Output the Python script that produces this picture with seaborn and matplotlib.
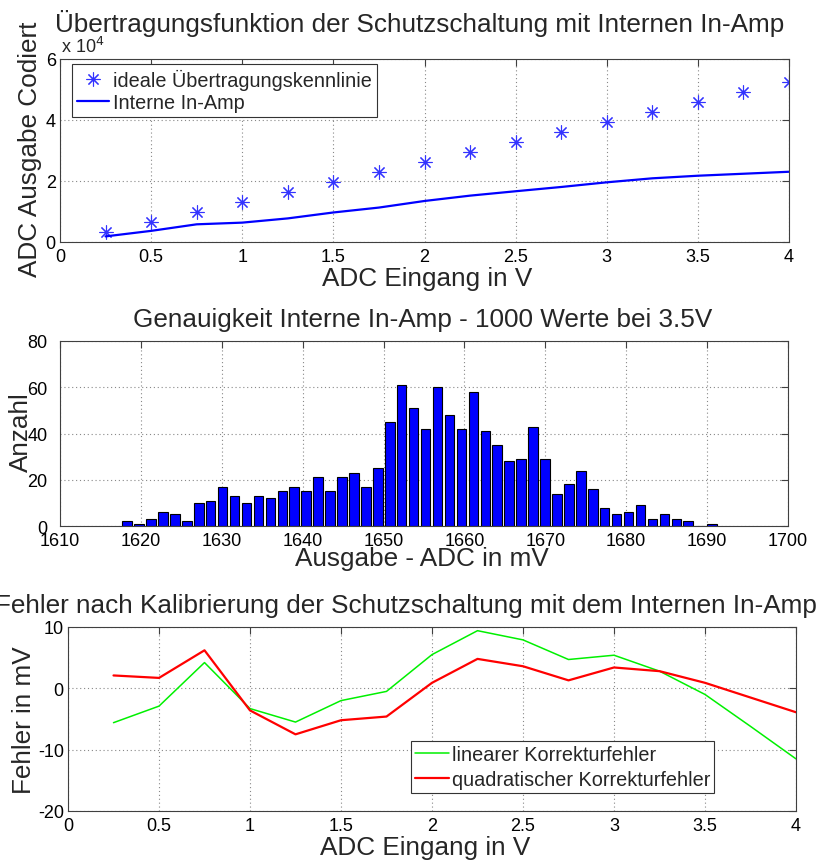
import numpy as np
import pandas as pd
import seaborn as sns
import matplotlib.pyplot as plt
from matplotlib.ticker import FuncFormatter, MultipleLocator

# Input voltages (V) used in the top and bottom plots
volts = [0.25, 0.5, 0.75, 1.0, 1.25, 1.5, 1.75, 2.0,
         2.25, 2.5, 2.75, 3.0, 3.25, 3.5, 3.75, 4.0]

# Top: ideal transfer curve vs. internal in-amp (ADC codes)
ideal_codes = [3277, 6554, 9830, 13107, 16384, 19661, 22938, 26214,
               29491, 32768, 36045, 39322, 42598, 45875, 49152, 52429]
inamp_codes = [1840, 3650, 5800, 6350, 7740, 9680, 11290, 13450,
               15200, 16640, 18040, 19570, 20880, 21730, 22380, 23030]

# Middle: histogram of 1000 readings at 3.5 V (50 bins)
hist_range = (1617.56, 1691.36)
hist_counts = [2, 1, 3, 6, 5, 2, 10, 11, 17, 13,
               10, 13, 12, 15, 17, 15, 21, 15, 21, 23,
               17, 25, 45, 61, 51, 42, 60, 48, 42, 58,
               41, 35, 28, 29, 43, 29, 14, 18, 24, 16,
               8, 5, 6, 9, 3, 5, 3, 2, 0, 1]

# Bottom: error after calibration (mV)
err_linear = [-5.6, -2.9, 4.2, -3.3, -5.5, -2.0, -0.5, 5.5,
              9.4, 7.9, 4.7, 5.4, 2.8, -1.0, -6.2, -11.5]
err_quadratic = [2.1, 1.7, 6.2, -3.6, -7.5, -5.2, -4.6, 0.9,
                 4.8, 3.6, 1.3, 3.4, 2.8, 0.9, -1.5, -3.9]

sns.set_style("white")
plt.rcParams['font.family'] = ['Liberation Sans', 'DejaVu Sans']

LABEL_FS = 18.8
TICK_FS = 13
LEGEND_FS = 14.3
SPINE_C = '#404040'

fig = plt.figure(figsize=(8.21, 8.62), dpi=100)
W, H = 821, 862


def add_axes_px(left, top, right, bottom):
    return fig.add_axes([left / W, 1 - bottom / H, (right - left) / W, (bottom - top) / H])


def matlab_style(ax, ypad=3):
    for s in ax.spines.values():
        s.set_color(SPINE_C)
        s.set_linewidth(0.8)
    ax.tick_params(direction='in', top=True, right=True, length=5, width=0.8,
                   color=SPINE_C, labelsize=TICK_FS, labelcolor='black')
    ax.tick_params(axis='x', pad=4)
    ax.tick_params(axis='y', pad=ypad)
    ax.grid(True, linestyle=(0, (1, 2.5)), color='#888888', linewidth=0.8)
    ax.set_axisbelow(True)


fmt = FuncFormatter(lambda v, p: f"{v:g}")

# ---- Top plot ----
ax1 = add_axes_px(60, 60, 789, 243)
df_top = pd.DataFrame({'volts': volts, 'ideal': ideal_codes, 'inamp': inamp_codes})
sns.lineplot(data=df_top, x='volts', y='ideal', ax=ax1, linestyle='', marker=(8, 2, 0),
             markersize=10, color='blue', markeredgecolor='#3333ff', markeredgewidth=0.8,
             label='ideale Übertragungskennlinie')
sns.lineplot(data=df_top, x='volts', y='inamp', ax=ax1, color='blue', linewidth=1.6,
             label='Interne In-Amp')
ax1.set_xlim(0, 4)
ax1.set_ylim(0, 60000)
ax1.xaxis.set_major_locator(MultipleLocator(0.5))
ax1.yaxis.set_major_locator(MultipleLocator(20000))
ax1.xaxis.set_major_formatter(fmt)
ax1.yaxis.set_major_formatter(FuncFormatter(lambda v, p: f"{v / 1e4:g}"))
matlab_style(ax1, ypad=3)
ax1.set_title('Übertragungsfunktion der Schutzschaltung mit Internen In-Amp',
              fontsize=LABEL_FS, x=0.493, pad=20)
ax1.set_xlabel('ADC Eingang in V', fontsize=LABEL_FS)
ax1.set_ylabel('ADC Ausgabe Codiert', fontsize=LABEL_FS)
ax1.xaxis.set_label_coords(0.503, -0.13)
ax1.yaxis.set_label_coords(-0.025, 0.511)
fig.text(61 / W, 1 - 53 / H, r'x 10$^4$', fontsize=TICK_FS, ha='left', va='baseline')
leg1 = ax1.legend(loc='upper left', bbox_to_anchor=(0.0169, 0.9727), borderaxespad=0,
                  fontsize=LEGEND_FS, frameon=True, fancybox=False, framealpha=1,
                  edgecolor='#333333', handlelength=1.6, handletextpad=0.2,
                  labelspacing=0.15, borderpad=0.25, numpoints=1)
leg1.get_frame().set_linewidth(0.8)

# ---- Middle plot: histogram ----
ax2 = add_axes_px(60, 342, 788, 527)
bin_w = (hist_range[1] - hist_range[0]) / len(hist_counts)
edges = np.linspace(hist_range[0], hist_range[1], len(hist_counts) + 1)
df_hist = pd.DataFrame({'mv': (edges[:-1] + edges[1:]) / 2, 'count': hist_counts})
sns.histplot(data=df_hist, x='mv', weights='count', binwidth=bin_w, binrange=hist_range,
             shrink=0.8, ax=ax2, color='blue', edgecolor='black', linewidth=0.8, alpha=1)
ax2.set_xlim(1610, 1700)
ax2.set_ylim(0, 80)
ax2.xaxis.set_major_locator(MultipleLocator(10))
ax2.yaxis.set_major_locator(MultipleLocator(20))
ax2.xaxis.set_major_formatter(fmt)
matlab_style(ax2, ypad=9)
ax2.set_title('Genauigkeit Interne In-Amp - 1000 Werte bei 3.5V',
              fontsize=LABEL_FS, x=0.4977, pad=11)
ax2.set_xlabel('Ausgabe - ADC in mV', fontsize=LABEL_FS)
ax2.set_ylabel('Anzahl', fontsize=LABEL_FS)
ax2.xaxis.set_label_coords(0.497, -0.11)
ax2.yaxis.set_label_coords(-0.037, 0.514)

# ---- Bottom plot: calibration error ----
ax3 = add_axes_px(68, 628, 796, 812)
df_err = pd.DataFrame({'volts': volts, 'lin': err_linear, 'quad': err_quadratic})
sns.lineplot(data=df_err, x='volts', y='lin', ax=ax3, color='#00f000', linewidth=1.1,
             label='linearer Korrekturfehler')
sns.lineplot(data=df_err, x='volts', y='quad', ax=ax3, color='red', linewidth=1.6,
             label='quadratischer Korrekturfehler')
ax3.set_xlim(0, 4)
ax3.set_ylim(-20, 10)
ax3.xaxis.set_major_locator(MultipleLocator(0.5))
ax3.yaxis.set_major_locator(MultipleLocator(10))
ax3.xaxis.set_major_formatter(fmt)
ax3.yaxis.set_major_formatter(fmt)
matlab_style(ax3, ypad=3)
ax3.set_title('Fehler nach Kalibrierung der Schutzschaltung mit dem Internen In-Amp',
              fontsize=LABEL_FS, x=0.4637, pad=11)
ax3.set_xlabel('ADC Eingang in V', fontsize=LABEL_FS)
ax3.set_ylabel('Fehler in mV', fontsize=LABEL_FS)
ax3.xaxis.set_label_coords(0.4908, -0.13)
ax3.yaxis.set_label_coords(-0.044, 0.5016)
leg3 = ax3.legend(loc='upper left', bbox_to_anchor=(0.4716, 0.378), borderaxespad=0,
                  fontsize=LEGEND_FS, frameon=True, fancybox=False, framealpha=1,
                  edgecolor='#333333', handlelength=1.7, handletextpad=0.15,
                  labelspacing=0.3, borderpad=0.2)
leg3.get_frame().set_linewidth(0.8)

fig.savefig('out.png', dpi=100)
